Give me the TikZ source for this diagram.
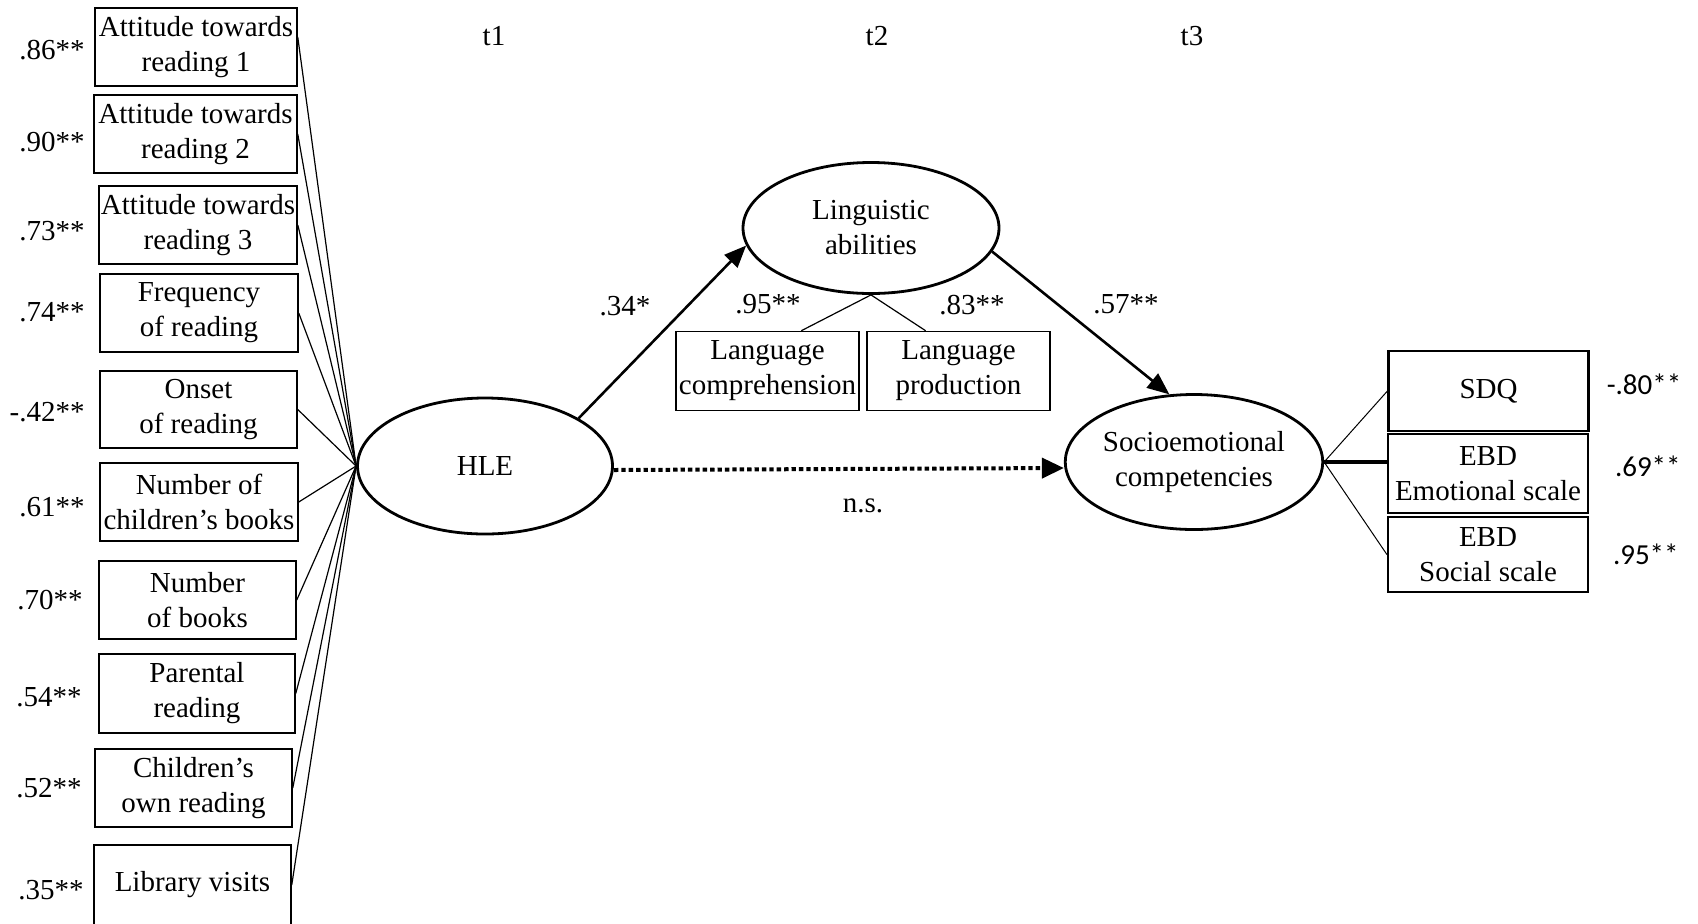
\documentclass[tikz,border=0pt]{standalone}
\usepackage{fontspec}
\setmainfont{Liberation Serif}
\newfontfamily\calfont{Carlito}
\usetikzlibrary{arrows.meta,shapes.geometric,calc}
\begin{document}
\begin{tikzpicture}[x=0.5pt,y=-0.5pt,
  font=\fontsize{14.5pt}{17.5pt}\selectfont,
  obs/.style={draw,line width=0.75pt,rectangle,inner sep=1pt,align=center},
  obsr/.style={draw,line width=1.1pt,rectangle,inner sep=1pt,align=center,minimum width=100pt},
  lat/.style={draw,ellipse,line width=1.4pt,inner sep=0pt,align=center},
  ld/.style={line width=0.6pt},
  pth/.style={line width=1.3pt,-{Triangle[length=11pt,width=9pt]}},
  lbl/.style={inner sep=0pt}]
\useasboundingbox (0,0) rectangle (1698,923);

% time labels
\node[lbl] (t1) at (494,36) {t1};
\node[lbl] (t2) at (877,36) {t2};
\node[lbl] (t3) at (1192,36) {t3};

% latent variables
\node[lat,minimum width=127.5pt,minimum height=68pt] (hle) at (485,466) {HLE};
\node[lat,minimum width=128pt,minimum height=65.5pt] (ling) at (871,228) {Linguistic\\ abilities};
\node[lat,minimum width=127.5pt,minimum height=67.5pt] (socio) at (1194,462) {Socioemotional\\competencies};

% HLE indicators
\node[obs,minimum width=101pt,minimum height=39pt] (b1) at (196,47) {Attitude towards\\reading 1};
\node[obs,minimum width=101.5pt,minimum height=39pt] (b2) at (195.5,134) {Attitude towards\\reading 2};
\node[obs,minimum width=99pt,minimum height=39pt] (b3) at (198,225) {Attitude towards\\reading 3};
\node[obs,minimum width=99pt,minimum height=39pt] (b4) at (199,313) {Frequency\\ of reading};
\node[obs,minimum width=98.5pt,minimum height=38.5pt] (b5) at (198.5,409.5) {Onset\\ of reading};
\node[obs,minimum width=99pt,minimum height=39pt] (b6) at (199,502) {Number of\\children’s books};
\node[obs,minimum width=98.5pt,minimum height=39pt] (b7) at (197.5,600) {Number\\ of books};
\node[obs,minimum width=98pt,minimum height=39.5pt] (b8) at (197,693.5) {Parental\\ reading};
\node[obs,minimum width=98.5pt,minimum height=39pt] (b9) at (193.5,788) {Children’s\\own reading};
\node[obs,minimum width=98.5pt,minimum height=40pt] (b10) at (192.5,885) {Library visits};

\draw[ld] ($(b1.east)+(0,-10)$) -- (hle.west);
\foreach \i in {2,...,10} \draw[ld] (b\i.east) -- (hle.west);

% loadings left
\node[lbl,anchor=east] (l1) at (85,50) {.86**};
\node[lbl,anchor=east] (l2) at (85,142) {.90**};
\node[lbl,anchor=east] (l3) at (85,231) {.73**};
\node[lbl,anchor=east] (l4) at (85,312) {.74**};
\node[lbl,anchor=east] (l5) at (85,412) {-.42**};
\node[lbl,anchor=east] (l6) at (85,507) {.61**};
\node[lbl,anchor=east] (l7) at (83,600) {.70**};
\node[lbl,anchor=east] (l8) at (82,697) {.54**};
\node[lbl,anchor=east] (l9) at (82,788) {.52**};
\node[lbl,anchor=east] (l10) at (84,890) {.35**};

% linguistic indicators
\node[obs,minimum width=91.5pt,minimum height=39.5pt] (comp) at (767.5,371) {Language\\comprehension};
\node[obs,minimum width=91.5pt,minimum height=39.5pt] (prod) at (958.5,371) {Language\\production};
\draw[ld] (ling.south) -- ($(comp.north west)!0.683!(comp.north east)$);
\draw[ld] (ling.south) -- ($(prod.north west)!0.322!(prod.north east)$);
\node[lbl] (l95) at (768,304) {.95**};
\node[lbl] (l83) at (972,305) {.83**};

% socioemotional indicators
\node[obsr,minimum height=40pt] (sdq) at (1488.5,391) {SDQ};
\node[obsr,minimum height=39.5pt] (emo) at (1488,473.5) {EBD\\Emotional scale};
\node[obsr,minimum height=37.5pt] (soc) at (1488,554.5) {EBD\\Social scale};
\draw[line width=0.5pt] (socio.east) -- (sdq.west);
\draw[line width=1.6pt] (socio.east) -- (emo.west |- socio.east);
\draw[line width=0.5pt] (socio.east) -- (soc.west);
\node[lbl,font=\calfont\fontsize{14.5pt}{17.5pt}\selectfont] (r1) at (1644,384) {-.80**};
\node[lbl,anchor=east,font=\calfont\fontsize{14.5pt}{17.5pt}\selectfont] (r2) at (1681,466) {.69**};
\node[lbl,anchor=east,font=\calfont\fontsize{14.5pt}{17.5pt}\selectfont] (r3) at (1679,554) {.95**};

% structural paths
\draw[pth] (hle.27) -- (ling.188);
\draw[pth] (ling.349) -- (socio.110);
\draw[line width=2pt,dash pattern=on 2.2pt off 1.5pt,-{Triangle[length=11pt,width=10pt]}]
  ([yshift=-2pt]hle.east) -- ([yshift=-3pt]socio.west);
\node[lbl] (p34) at (625,306) {.34*};
\node[lbl] (p57) at (1126,304) {.57**};
\node[lbl] (pns) at (863,506) {n.s.};
\end{tikzpicture}
\end{document}
